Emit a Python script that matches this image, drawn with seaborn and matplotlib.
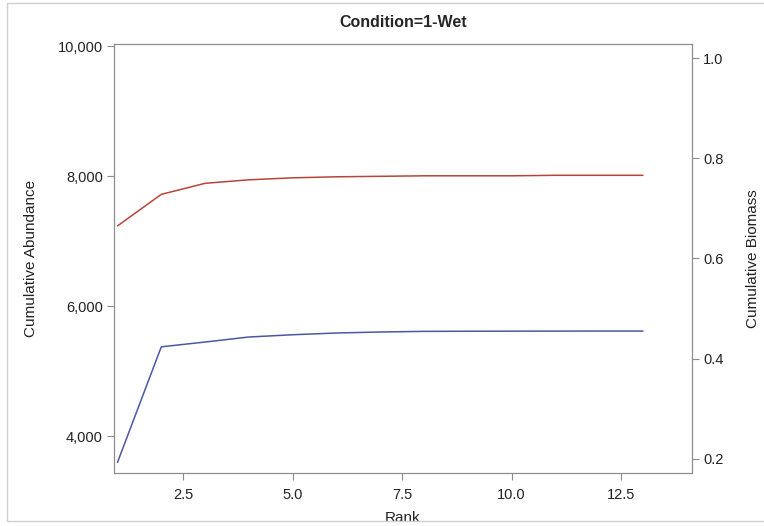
import numpy as np
import pandas as pd
import matplotlib
matplotlib.use("Agg")
import matplotlib.pyplot as plt
from matplotlib.patches import Rectangle
import seaborn as sns

TITLE = "Condition=1-Wet"
RANK = [1, 2, 3, 4, 5, 6, 7, 8, 9, 10, 11, 12, 13]
ABUNDANCE = [3595, 5372, 5446, 5523, 5558, 5585, 5600, 5610, 5612, 5613, 5614, 5615, 5615]
BIOMASS = [0.665, 0.728, 0.750, 0.757, 0.761, 0.763, 0.764, 0.765, 0.765, 0.765, 0.766, 0.766, 0.766]
LEFT_TICKS = [4000, 6000, 8000, 10000]
RIGHT_TICKS = [0.2, 0.4, 0.6, 0.8, 1.0]
X_TICKS = [2.5, 5.0, 7.5, 10.0, 12.5]

BLUE = "#4a58a0"
RED = "#b8453a"
GRAY = "#8c8c8c"
TXT = "#222222"

sns.set_style("white")
plt.rcParams["font.family"] = ["Liberation Sans", "DejaVu Sans"]

df = pd.DataFrame({"Rank": RANK, "Abundance": ABUNDANCE, "Biomass": BIOMASS})

fig = plt.figure(figsize=(7.64, 5.26), dpi=100)
ax = fig.add_axes([114 / 764, 1 - 473 / 526, (692 - 114) / 764, (473 - 44) / 526])
ax2 = ax.twinx()

sns.lineplot(data=df, x="Rank", y="Abundance", ax=ax, color=BLUE, linewidth=1.1)
sns.lineplot(data=df, x="Rank", y="Biomass", ax=ax2, color=RED, linewidth=1.1)

ax.set_xlim(0.92, 14.12)
ax.set_ylim(3431, 10031)
ax2.set_ylim(0.172, 1.028)

ax.set_xticks(X_TICKS)
ax.set_xticklabels([f"{v:.1f}" for v in X_TICKS])
ax.set_yticks(LEFT_TICKS)
ax.set_yticklabels([f"{v:,}" for v in LEFT_TICKS])
ax2.set_yticks(RIGHT_TICKS)
ax2.set_yticklabels([f"{v:.1f}" for v in RIGHT_TICKS])

for a in (ax, ax2):
    for s in a.spines.values():
        s.set_color(GRAY)
        s.set_linewidth(0.8)
    a.tick_params(axis="both", which="major", length=5, width=0.8, color=GRAY,
                  labelsize=10.5, labelcolor=TXT, pad=3)
ax.tick_params(axis="y", left=True)
ax.tick_params(axis="x", bottom=True, pad=6)
ax2.tick_params(axis="y", right=True)

ax.set_xlabel("")
ax.set_ylabel("Cumulative Abundance", fontsize=11, color=TXT, labelpad=14)
ax2.set_ylabel("Cumulative Biomass", fontsize=11, color=TXT, labelpad=16)
ax.set_title(TITLE, fontsize=11.5, fontweight="bold", pad=12)

# x label sits under the plot and is clipped by the output frame, as in the source
fig.text(403 / 764, 1 - 518 / 526, "Rank", ha="center", va="center",
         fontsize=11, color=TXT)
fig.patches.append(Rectangle((7 / 764, 1 - 521 / 526), 1.0, (521 - 3) / 526,
                             transform=fig.transFigure, fill=False,
                             edgecolor="#d0d0d0", linewidth=1.0, zorder=10))
fig.patches.append(Rectangle((0, 0), 1.0, 4 / 526, transform=fig.transFigure,
                             facecolor="white", edgecolor="none", zorder=9))

fig.savefig("out.png", dpi=100)
